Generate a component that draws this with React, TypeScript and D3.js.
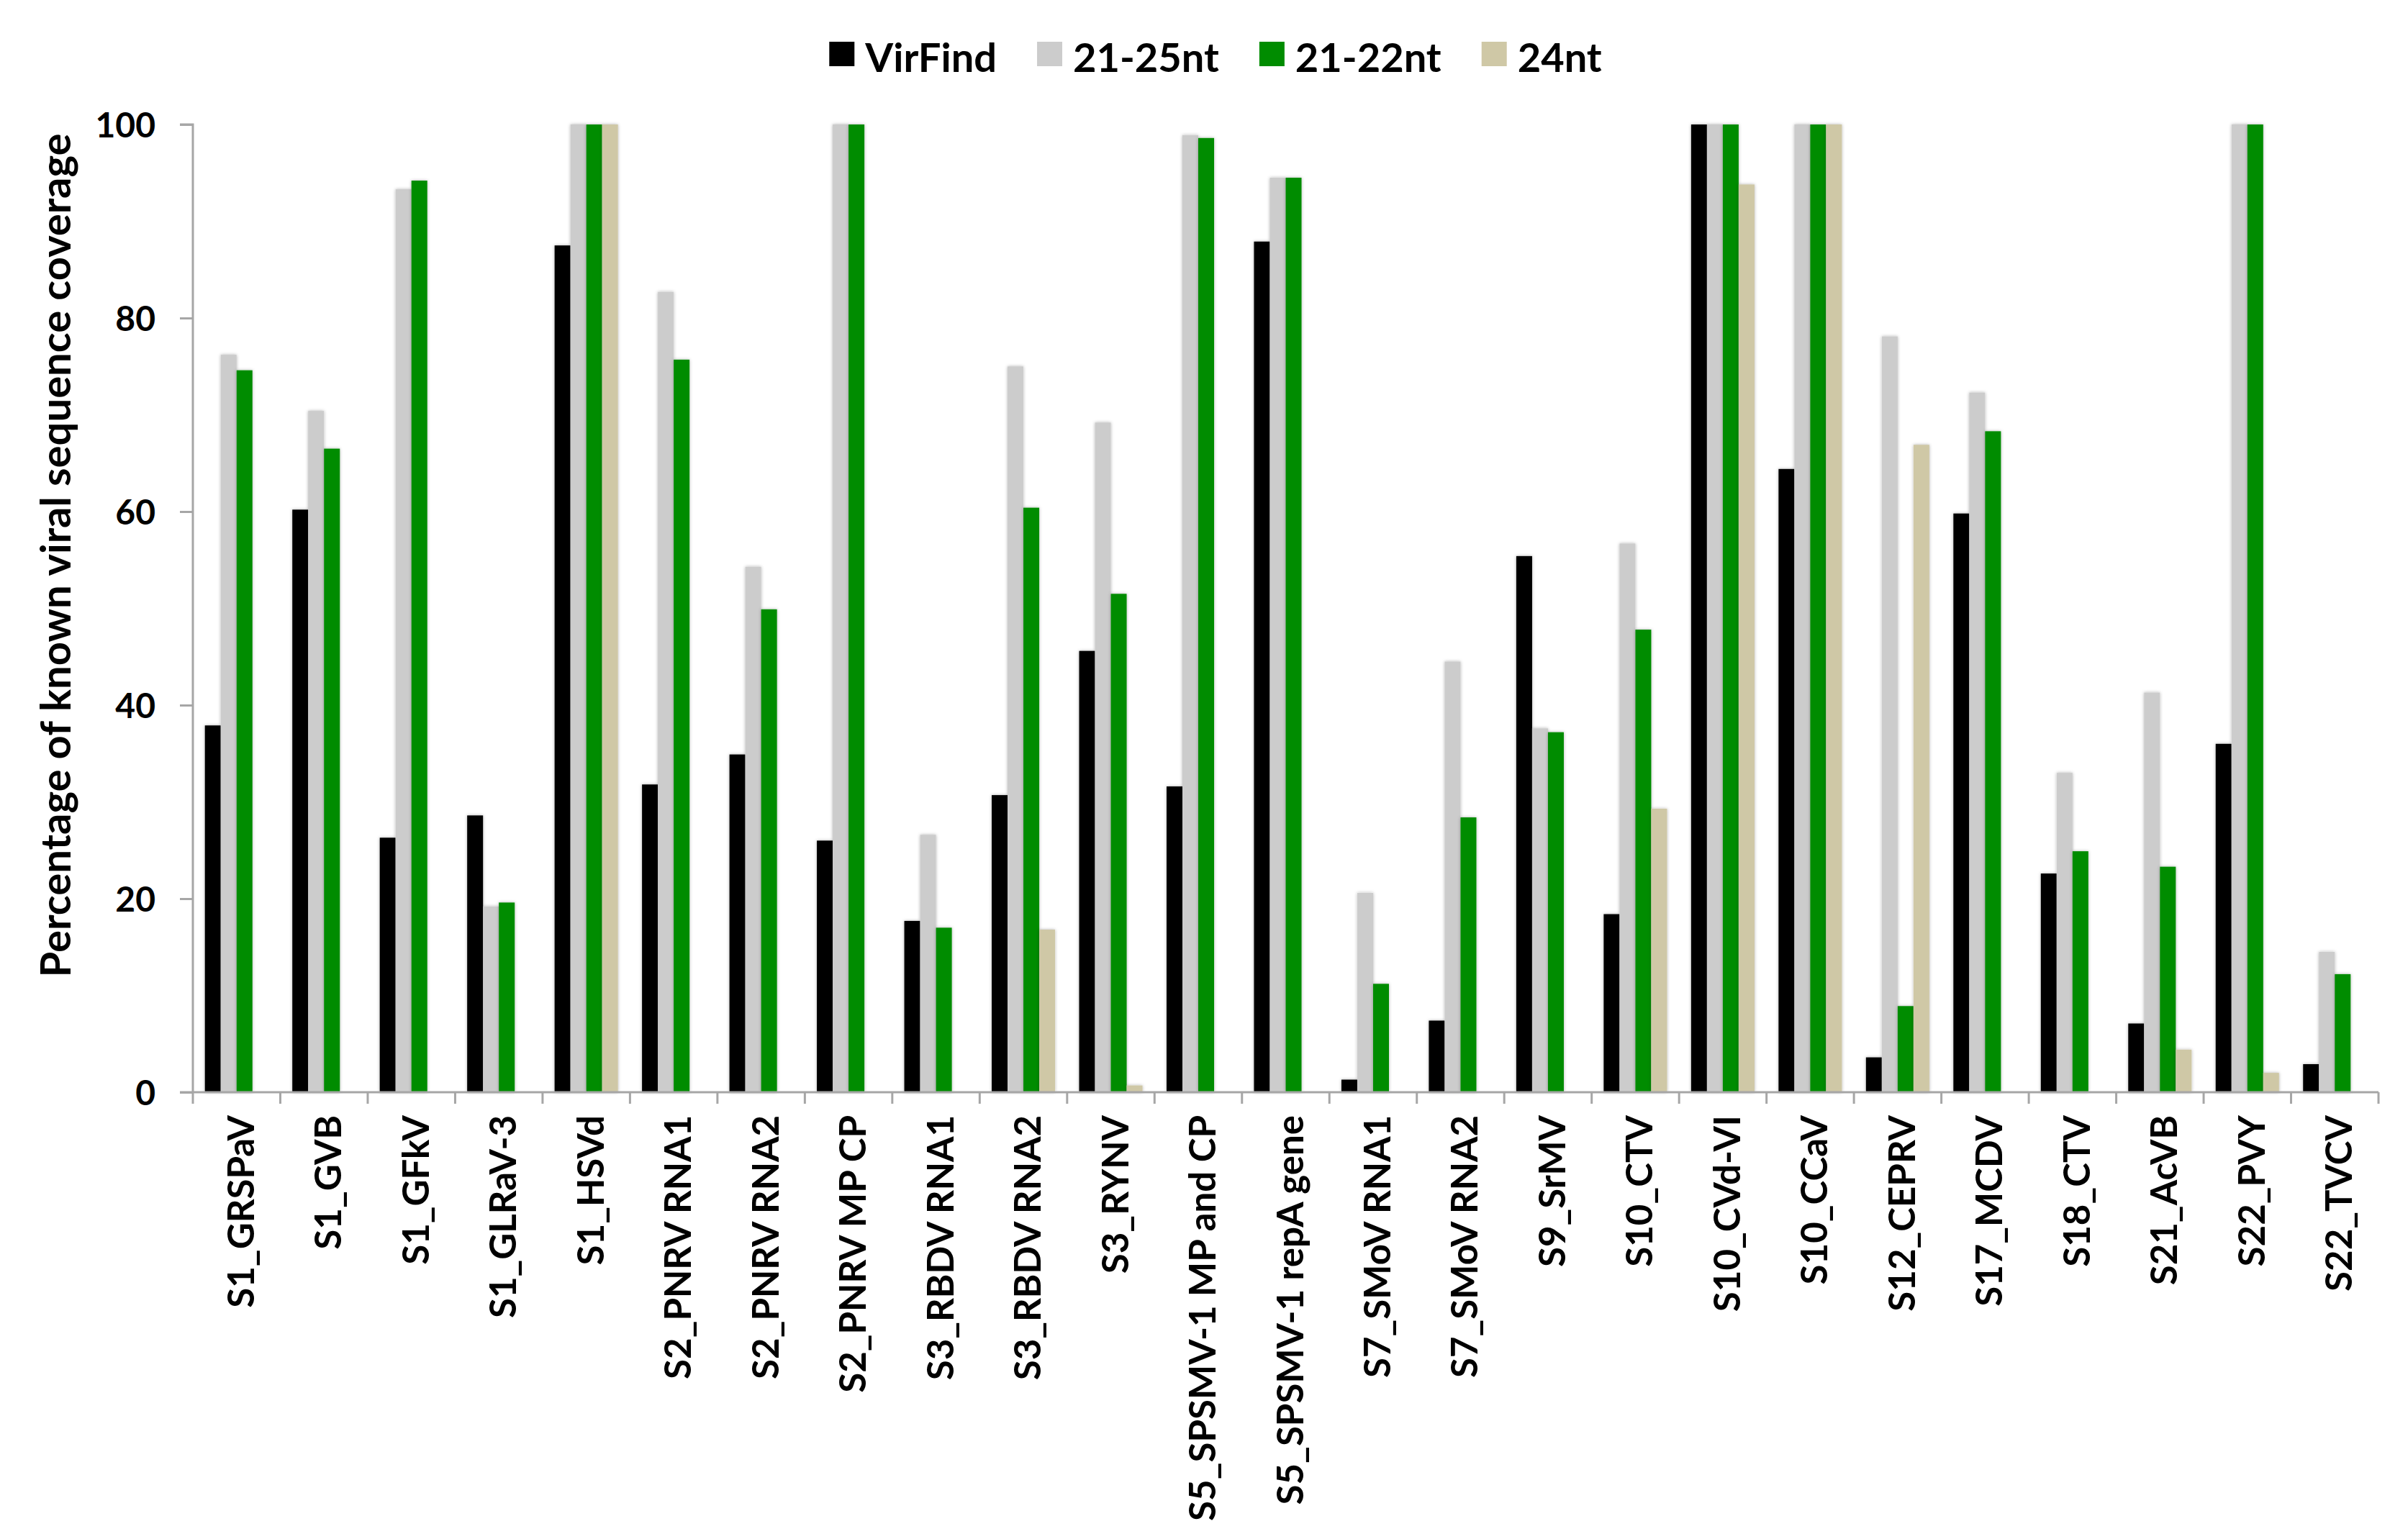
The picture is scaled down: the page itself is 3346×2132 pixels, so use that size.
import { useEffect, useRef } from "react";
import * as d3 from "d3";

const categories = [
  "S1_GRSPaV", "S1_GVB", "S1_GFkV", "S1_GLRaV-3", "S1_HSVd",
  "S2_PNRV RNA1", "S2_PNRV RNA2", "S2_PNRV MP CP", "S3_RBDV RNA1", "S3_RBDV RNA2",
  "S3_RYNV", "S5_SPSMV-1 MP and CP", "S5_SPSMV-1 repA gene", "S7_SMoV RNA1", "S7_SMoV RNA2",
  "S9_SrMV", "S10_CTV", "S10_CVd-VI", "S10_CCaV", "S12_CEPRV",
  "S17_MCDV", "S18_CTV", "S21_AcVB", "S22_PVY", "S22_TVCV",
];

const virFind = [37.9, 60.2, 26.3, 28.6, 87.5, 31.8, 34.9, 26.0, 17.7, 30.7, 45.6, 31.6, 87.9, 1.3, 7.4, 55.4, 18.4, 100, 64.4, 3.6, 59.8, 22.6, 7.1, 36.0, 2.9];
const nt21to25 = [76.2, 70.4, 93.3, 19.2, 100, 82.7, 54.3, 100, 26.6, 75.0, 69.2, 98.9, 94.5, 20.6, 44.5, 37.6, 56.7, 100, 100, 78.1, 72.3, 33.0, 41.3, 100, 14.5];
const nt21to22 = [74.6, 66.5, 94.2, 19.6, 100, 75.7, 49.9, 100, 17.0, 60.4, 51.5, 98.6, 94.5, 11.2, 28.4, 37.2, 47.8, 100, 100, 8.9, 68.3, 24.9, 23.3, 100, 12.2];
const nt24: (number | null)[] = [null, null, null, null, 100, null, null, null, null, 16.8, 0.7, null, null, null, null, null, 29.3, 93.8, 100, 66.9, null, null, 4.4, 2.0, null];

const seriesNames = ["VirFind", "21-25nt", "21-22nt", "24nt"];
const seriesColors = ["#000000", "#cccccc", "#008c00", "#cfc8a6"];
const seriesValues = [virFind, nt21to25, nt21to22, nt24];
const yTicks = [0, 20, 40, 60, 80, 100];

const W = 3346;
const H = 2132;
const FONT = "Lato, 'Open Sans', sans-serif";
const AXIS = "#a6a6a6";

export default function App() {
  const ref = useRef<SVGSVGElement>(null);

  useEffect(() => {
    if (!ref.current) return;
    const svg = d3.select(ref.current);
    svg.selectAll("*").remove();

    const left = 268, right = 3305, top = 173, bottom = 1518;

    const x = d3.scaleBand<string>().domain(categories).range([left, right]).padding(0);
    const xs = d3.scaleBand<string>().domain(seriesNames).range([0, x.bandwidth()]).paddingInner(0).paddingOuter(0.76);
    const y = d3.scaleLinear().domain([0, 100]).range([bottom, top]);

    const defs = svg.append("defs");
    const f = defs.append("filter").attr("id", "glow").attr("x", "-50%").attr("y", "-5%").attr("width", "200%").attr("height", "110%");
    f.append("feDropShadow").attr("dx", 0).attr("dy", 0).attr("stdDeviation", 2).attr("flood-color", "#000").attr("flood-opacity", 0.3);

    // bars
    const g = svg.append("g");
    seriesNames.forEach((name, si) => {
      const vals = seriesValues[si];
      g.append("g")
        .attr("filter", "url(#glow)")
        .selectAll("rect")
        .data(categories.map((c, i) => ({ c, v: vals[i] })).filter((d) => d.v != null))
        .join("rect")
        .attr("x", (d) => (x(d.c) as number) + (xs(name) as number))
        .attr("y", (d) => y(d.v as number))
        .attr("width", xs.bandwidth())
        .attr("height", (d) => bottom - y(d.v as number))
        .attr("fill", seriesColors[si]);
    });

    // y axis
    const ya = svg.append("g").attr("transform", `translate(${left},0)`).call(d3.axisLeft(y).tickValues(yTicks).tickSize(18).tickPadding(34).tickFormat(d3.format("d")));
    ya.select(".domain").attr("stroke", AXIS).attr("stroke-width", 3).attr("d", `M-18,${top}H0V${bottom}`);
    ya.selectAll(".tick line").attr("stroke", AXIS).attr("stroke-width", 3);
    ya.selectAll(".tick text").attr("fill", "#000").style("font-family", FONT).style("font-weight", 700).style("font-size", "48px").attr("dy", "0.36em");

    // x axis
    const xa = svg.append("g").attr("transform", `translate(0,${bottom})`).call(d3.axisBottom(x).tickSize(0).tickFormat(() => ""));
    xa.select(".domain").attr("stroke", AXIS).attr("stroke-width", 3).attr("d", `M${left - 18},0H${right}`);
    xa.selectAll(".tick").remove();
    xa.selectAll("line.sep")
      .data([...categories.map((c) => x(c) as number), right])
      .join("line")
      .attr("class", "sep")
      .attr("x1", (d) => d).attr("x2", (d) => d)
      .attr("y1", 0).attr("y2", 16)
      .attr("stroke", AXIS).attr("stroke-width", 3);

    svg.append("g")
      .selectAll("text")
      .data(categories)
      .join("text")
      .attr("transform", (d) => `translate(${(x(d) as number) + x.bandwidth() / 2 + 24},${bottom + 32}) rotate(-90)`)
      .attr("text-anchor", "end")
      .style("font-family", FONT)
      .style("font-weight", 700)
      .style("font-size", "51px")
      .attr("fill", "#000")
      .text((d) => d);

    // y title
    svg.append("text")
      .attr("transform", `translate(98,772) rotate(-90)`)
      .attr("text-anchor", "middle")
      .style("font-family", FONT)
      .style("font-weight", 700)
      .style("font-size", "58px")
      .attr("fill", "#000")
      .text("Percentage of known viral sequence coverage");

    // legend
    const lg = svg.append("g");
    const items = lg.selectAll("g").data(seriesNames).join("g");
    items.append("rect").attr("width", 35).attr("height", 34).attr("y", 58).attr("fill", (_, i) => seriesColors[i]);
    items.append("text")
      .attr("x", 50).attr("y", 100)
      .style("font-family", FONT).style("font-weight", 700).style("font-size", "56px")
      .attr("fill", "#000")
      .text((d) => d);
    let cursor = 0;
    items.each(function () {
      const node = this as SVGGElement;
      d3.select(node).attr("transform", `translate(${cursor},0)`);
      const t = node.querySelector("text") as SVGTextElement;
      cursor += 50 + t.getComputedTextLength() + 56;
    });
    const total = cursor - 56;
    lg.attr("transform", `translate(${1689 - total / 2},0)`);
  }, []);

  return (
    <svg ref={ref} width={W} height={H} style={{ position: "absolute", left: 0, top: 0, background: "#fff" }} />
  );
}
